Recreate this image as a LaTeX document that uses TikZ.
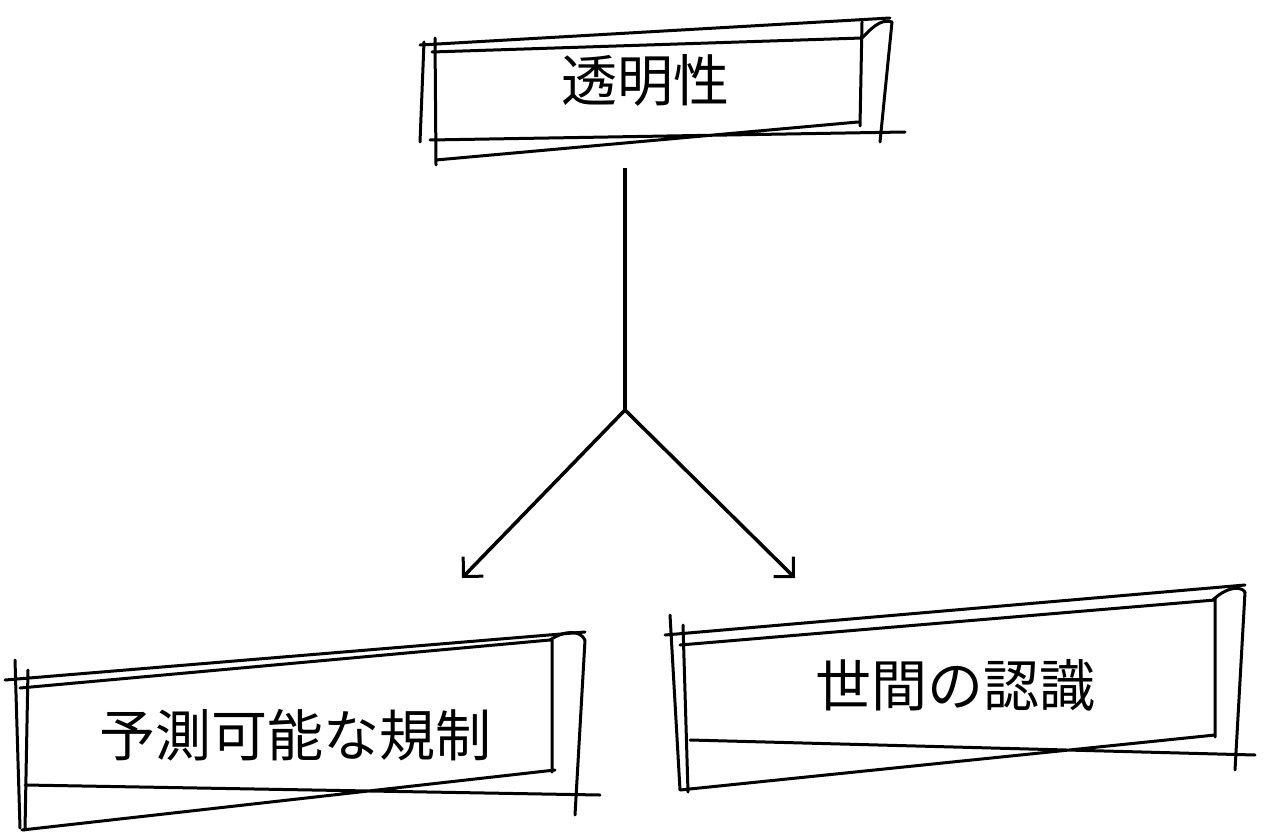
\documentclass[tikz,border=0pt]{standalone}
\usepackage{fontspec}
\newfontfamily\cjk{Noto Sans CJK JP}
\usetikzlibrary{arrows.meta}
\begin{document}
\begin{tikzpicture}[x=1pt,y=-1pt,
  sk/.style={line width=3pt,line cap=round},
  lbl/.style={font=\cjk\fontsize{56}{64}\selectfont},
  con/.style={line width=3.5pt,-{Straight Barb[length=14pt,width=28pt,line width=3pt]}}]
\useasboundingbox (0,0) rectangle (1263,832);
% top box
\draw[sk] (420,45) -- (890,18) (432,52) -- (862,38)
 (430,140) -- (905,132) (436,160) -- (858,122)
 (424,42) -- (420,142) (435,38) -- (436,165)
 (862,22) -- (860,126) (892,22) -- (880,142);
\draw[sk] (862,38) .. controls (870,30) and (880,18) .. (892,22);
\node[lbl] (t) at (645,80) {透明性};
% left box
\draw[sk] (5,680) -- (585,632) (20,688) -- (550,640)
 (25,785) -- (600,795) (22,830) -- (555,770)
 (15,660) -- (20,828) (28,670) -- (25,830)
 (552,640) -- (552,772) (585,640) -- (575,815);
\draw[sk] (550,640) .. controls (565,630) and (580,630) .. (585,640);
\node[lbl] (l) at (295,735) {予測可能な規制};
% right box
\draw[sk] (665,635) -- (1245,585) (680,645) -- (1215,600)
 (690,740) -- (1255,755) (680,790) -- (1215,735)
 (670,615) -- (680,790) (683,625) -- (688,792)
 (1215,598) -- (1215,737) (1245,592) -- (1235,770);
\draw[sk] (1213,600) .. controls (1225,588) and (1240,585) .. (1245,592);
\node[lbl] (r) at (955,685) {世間の認識};
% connectors
\coordinate (top) at (625,168);
\coordinate (j) at (625,410);
\coordinate (a1) at (462,578);
\coordinate (a2) at (795,578);
\draw[line width=3.5pt] (top) -- (j);
\draw[con] (j) -- (a1);
\draw[con] (j) -- (a2);
\end{tikzpicture}
\end{document}
